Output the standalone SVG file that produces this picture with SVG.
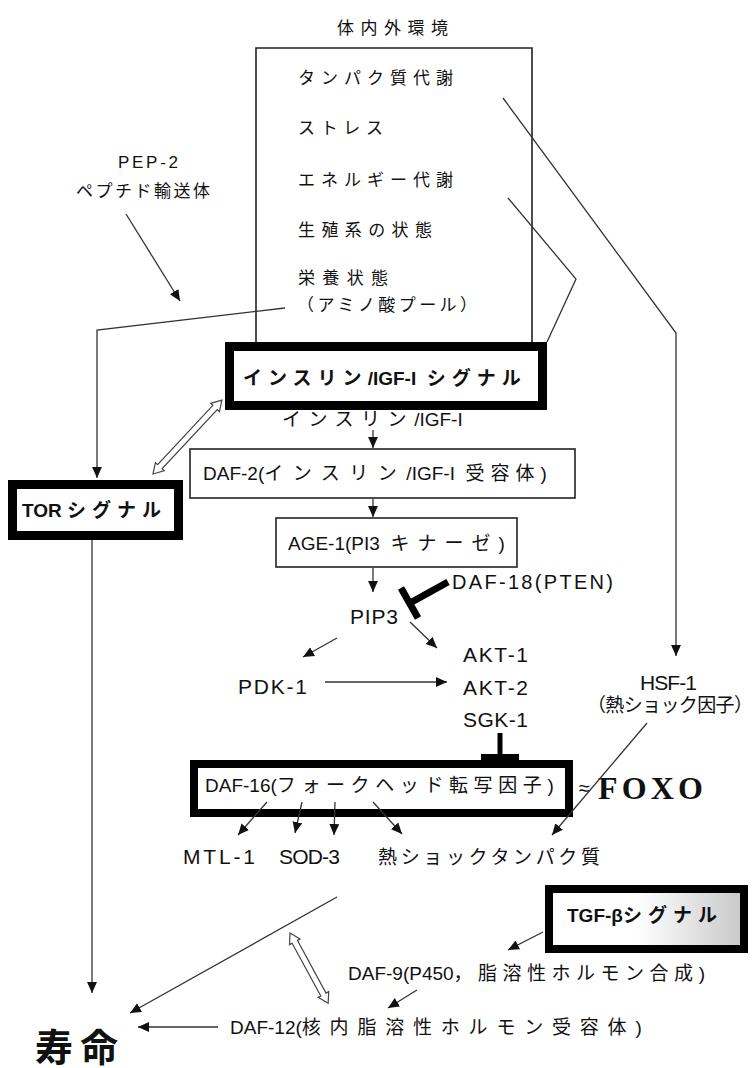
<svg xmlns="http://www.w3.org/2000/svg" width="756" height="1068" viewBox="0 0 756 1068">
<style>
.t{font-family:"Liberation Sans","Noto Sans CJK JP",sans-serif;font-size:19px;fill:#111}
.e{font-size:17px}
.l{font-size:21px}
.b{font-weight:bold}
.thin{fill:none;stroke:#222;stroke-width:1.6}
.thick{fill:#fff;stroke:#000;stroke-width:9}
.c{fill:none;stroke:#333;stroke-width:1.3}
.hol{fill:#fff;stroke:#444;stroke-width:1.2}
.inh{fill:none;stroke:#000;stroke-width:7}
</style>
<defs>
<marker id="ah" viewBox="0 0 10 10" refX="10" refY="5" markerWidth="11" markerHeight="11" markerUnits="userSpaceOnUse" orient="auto">
<path d="M0,0.5 L10,5 L0,9.5 z" fill="#111"/>
</marker>
<linearGradient id="tg" x1="0" y1="0" x2="1" y2="0">
<stop offset="0.45" stop-color="#fff"/>
<stop offset="1" stop-color="#c8c8c8"/>
</linearGradient>
</defs>
<rect width="756" height="1068" fill="#fff"/>

<g id="env">
<text class="t e" x="337" y="34" textLength="111">体内外環境</text>
<path class="thin" d="M256,342 V48 H532 V342"/>
<text class="t e" x="298" y="84" textLength="155">タンパク質代謝</text>
<text class="t e" x="298" y="134" textLength="85">ストレス</text>
<text class="t e" x="298" y="186" textLength="155">エネルギー代謝</text>
<text class="t e" x="298" y="236" textLength="134">生殖系の状態</text>
<text class="t e" x="298" y="284" textLength="90">栄養状態</text>
<text class="t e" x="297" y="311" textLength="180">（アミノ酸プール）</text>
</g>

<g id="pep2">
<text class="t e" x="118" y="168" textLength="60">PEP-2</text>
<text class="t e" x="76" y="197" textLength="134">ペプチド輸送体</text>
</g>

<g id="insulin">
<rect class="thick" x="229.5" y="346.5" width="313" height="59"/>
<text class="t b" x="243" y="385"><tspan letter-spacing="6">インスリン</tspan>/IGF-I&#160;&#160;<tspan letter-spacing="6">シグナル</tspan></text>
</g>

<g id="insulin-label">
<text class="t" x="282" y="426"><tspan letter-spacing="7.5">インスリン</tspan>/IGF-I</text>
</g>

<g id="tor">
<rect class="thick" x="12.5" y="484.5" width="166" height="51"/>
<text class="t b" x="22" y="517">TOR&#160;<tspan letter-spacing="6">シグナル</tspan></text>
</g>

<g id="daf2">
<rect class="thin" x="190" y="449" width="385" height="49"/>
<text class="t" x="203" y="480">DAF-2(<tspan letter-spacing="9.5">インスリン</tspan>/IGF-I&#160;&#160;<tspan letter-spacing="6">受容体</tspan>)</text>
</g>

<g id="age1">
<rect class="thin" x="276" y="518" width="241" height="49"/>
<text class="t" x="288" y="550">AGE-1(PI3&#160;&#160;<tspan letter-spacing="8">キナーゼ</tspan>)</text>
</g>

<g id="daf18">
<text class="t" x="452" y="589" textLength="161" style="font-size:20px">DAF-18(PTEN)</text>
</g>

<g id="pip3">
<text class="t l" x="350" y="624" textLength="48">PIP3</text>
</g>

<g id="pdk1">
<text class="t l" x="238" y="694" textLength="69">PDK-1</text>
</g>

<g id="akt">
<text class="t l" x="463" y="662" textLength="65">AKT-1</text>
<text class="t l" x="463" y="695" textLength="65">AKT-2</text>
<text class="t l" x="463" y="727" textLength="65">SGK-1</text>
</g>

<g id="hsf1">
<text class="t l" x="640" y="690" textLength="57">HSF-1</text>
<text class="t" x="587" y="712" textLength="166">（熱ショック因子）</text>
</g>

<g id="daf16">
<rect class="thick" x="194" y="764" width="375" height="49" style="stroke-width:8"/>
<text class="t" x="205" y="792">DAF-16(<tspan letter-spacing="5.6">フォークヘッド転写因子</tspan>)</text>
<text class="t" x="579" y="795" style="font-size:20px">≈</text>
<text x="598" y="799" textLength="105" style="font-family:'Liberation Serif',serif;font-weight:bold;font-size:32px;fill:#111">FOXO</text>
</g>

<g id="targets">
<text class="t l" x="183" y="864" textLength="72">MTL-1</text>
<text class="t l" x="279" y="864" textLength="61">SOD-3</text>
<text class="t" x="378" y="864" textLength="222">熱ショックタンパク質</text>
</g>

<g id="tgf">
<rect x="549" y="889" width="195" height="60" fill="url(#tg)" stroke="#000" stroke-width="8"/>
<text class="t b" x="567" y="922">TGF-β<tspan letter-spacing="6">シグナル</tspan></text>
</g>

<g id="daf9">
<text class="t" x="348" y="980">DAF-9(P450<tspan letter-spacing="5.5">，脂溶性ホルモン合成</tspan>)</text>
</g>

<g id="daf12">
<text class="t" x="230" y="1034">DAF-12(<tspan letter-spacing="8.8">核内脂溶性ホルモン受容体</tspan>)</text>
</g>

<g id="lifespan">
<text class="t b" x="35" y="1061" textLength="83" style="font-size:38px">寿命</text>
</g>

<g id="connectors">
<path class="c" d="M285,308 L97,330 V478" marker-end="url(#ah)"/>
<path class="c" d="M126,214 L180,301" marker-end="url(#ah)"/>
<path class="c" d="M503,98 L676,333 V656" marker-end="url(#ah)"/>
<path class="c" d="M508,198 L576,279 L547,342"/>
<path class="c" d="M373,430 V448" marker-end="url(#ah)"/>
<path class="c" d="M373,499 V517" marker-end="url(#ah)"/>
<path class="c" d="M373,568 V592" marker-end="url(#ah)"/>
<path class="inh" d="M448,582 L410,603"/>
<path class="inh" d="M401,588 L418,618"/>
<path class="c" d="M337,638 L303,657" marker-end="url(#ah)"/>
<path class="c" d="M410,622 L437,648" marker-end="url(#ah)"/>
<path class="c" d="M325,682 H447" marker-end="url(#ah)"/>
<path class="inh" d="M500,733 V757" style="stroke-width:5"/>
<path class="inh" d="M481,757 H519" style="stroke-width:6"/>
<path class="c" d="M267,802 L238,835" marker-end="url(#ah)"/>
<path class="c" d="M302,802 L295,833" marker-end="url(#ah)"/>
<path class="c" d="M335,802 L334,835" marker-end="url(#ah)"/>
<path class="c" d="M373,802 L402,834" marker-end="url(#ah)"/>
<path class="c" d="M647,723 L552,835" marker-end="url(#ah)"/>
<path class="c" d="M92,540 V993" marker-end="url(#ah)"/>
<path class="c" d="M337,897 L130,1013" marker-end="url(#ah)"/>
<path class="c" d="M543,932 L508,950" marker-end="url(#ah)"/>
<path class="c" d="M417,990 L388,1008" marker-end="url(#ah)"/>
<path class="c" d="M218,1027 H138" marker-end="url(#ah)"/>
<g transform="translate(153,474) rotate(-47)">
<polygon class="hol" points="0,0 10,-6 10,-3 91,-3 91,-6 101,0 91,6 91,3 10,3 10,6"/>
</g>
<g transform="translate(290,933) rotate(61.5)">
<polygon class="hol" points="0,0 10,-6 10,-3 70,-3 70,-6 80,0 70,6 70,3 10,3 10,6"/>
</g>
</g>
</svg>
